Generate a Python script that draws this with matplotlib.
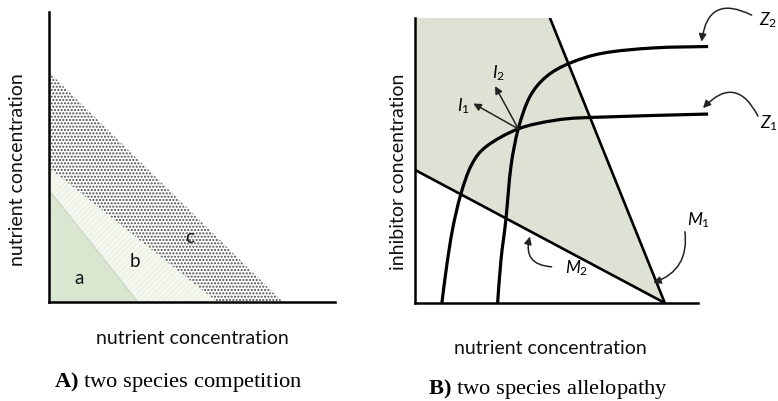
import numpy as np
import matplotlib
matplotlib.use('Agg')
import matplotlib.pyplot as plt
from matplotlib.path import Path
from matplotlib.patches import PathPatch, Polygon

plt.rcParams['font.family'] = ['Lato', 'DejaVu Sans']
plt.rcParams['mathtext.fontset'] = 'custom'
plt.rcParams['mathtext.it'] = 'Lato:italic'
plt.rcParams['mathtext.rm'] = 'Lato'
plt.rcParams['mathtext.bf'] = 'Liberation Serif:bold'
plt.rcParams['hatch.linewidth'] = 1.0

# panel A: upper edges of regions a, b, c (y-intercept, x-intercept)
edge_y0 = [3.86, 4.62, 7.93]
edge_x0 = [3.11, 5.87, 8.18]
region_names = ['a', 'b', 'c']
region_lx = [1.05, 3.01, 4.93]
region_ly = [0.8, 1.38, 2.24]

# panel B: resource-use lines M1, M2
m1_x = [4.77, 8.83]
m1_y = [10.0, 0.0]
m2_x = [0.0, 8.83]
m2_y = [4.67, 0.0]

# zero net growth isoclines Z1, Z2
z1_x = [0.95, 1.12, 1.33, 1.62, 2.0, 2.53, 3.65, 4.89, 6.18, 10.36]
z1_y = [0.0, 1.3, 2.6, 3.82, 4.85, 5.5, 6.11, 6.40, 6.51, 6.63]
z2_x = [2.92, 3.04, 3.21, 3.39, 3.65, 4.06, 4.65, 5.48, 6.66, 8.43, 10.36]
z2_y = [0.0, 1.52, 2.91, 4.78, 6.11, 7.24, 7.95, 8.42, 8.77, 8.95, 9.0]

# impact vectors from the equilibrium point
eq_pt = (3.65, 6.11)
impact_names = [r'$I_{\mathit{1}}$', r'$I_{\mathit{2}}$']
impact_tip_x = [2.06, 2.83]
impact_tip_y = [7.0, 7.61]
impact_lab_x = [1.72, 2.94]
impact_lab_y = [6.89, 8.05]


def smooth_path(xs, ys):
    pts = np.column_stack([xs, ys])
    ext = np.vstack([pts[0], pts, pts[-1]])
    verts = [pts[0]]
    codes = [Path.MOVETO]
    for i in range(len(pts) - 1):
        p0, p1, p2, p3 = ext[i], ext[i + 1], ext[i + 2], ext[i + 3]
        verts += [p1 + (p2 - p0) / 6, p2 - (p3 - p1) / 6, p2]
        codes += [Path.CURVE4] * 3
    return Path(verts, codes)


def clean_axes(ax):
    for s in ['top', 'right']:
        ax.spines[s].set_visible(False)
    for s in ['left', 'bottom']:
        ax.spines[s].set_linewidth(1.8)
    ax.set_xticks([])
    ax.set_yticks([])
    ax.patch.set_alpha(0)


fig = plt.figure(figsize=(7.78, 4.01), dpi=100)

# ---- A) two species competition
axA = fig.add_axes([49 / 778, 99 / 401, 286 / 778, 290 / 401])
clean_axes(axA)
axA.set_xlim(0, 10)
axA.set_ylim(0, 10)

c_poly = [(0, edge_y0[2]), (edge_x0[2], 0), (edge_x0[1], 0), (0, edge_y0[1])]
b_poly = [(0, edge_y0[1]), (edge_x0[1], 0), (edge_x0[0], 0), (0, edge_y0[0])]
a_poly = [(0, edge_y0[0]), (edge_x0[0], 0), (0, 0)]
axA.add_patch(Polygon(c_poly, facecolor='white', edgecolor='#4a4a4a',
                      hatch='.....', lw=0))
axA.add_patch(Polygon(b_poly, facecolor='#edf3e6', edgecolor='#f9fbf6',
                      hatch='//////', lw=0))
axA.add_patch(Polygon(a_poly, facecolor='#dae7d0', lw=0))
axA.plot([0, edge_x0[0]], [edge_y0[0], 0], color='#c9d3c2', lw=0.8)

for name, x, y in zip(region_names, region_lx, region_ly):
    axA.text(x, y, name, fontsize=13.5, ha='center', va='center', color='#111111')

# ---- B) two species allelopathy
axB = fig.add_axes([415 / 778, 98 / 401, 363 / 778, 285 / 401])
clean_axes(axB)
axB.set_xlim(0, 12.83)
axB.set_ylim(0, 10)
axB.spines['bottom'].set_bounds(0, 10.0)

shade = [(0, 10), (m1_x[0], m1_y[0]), (m1_x[1], m1_y[1]), (m2_x[0], m2_y[0])]
axB.add_patch(Polygon(shade, facecolor='#dee2d4', lw=0))
axB.plot(m1_x, m1_y, color='black', lw=1.9, solid_capstyle='round')
axB.plot(m2_x, m2_y, color='black', lw=1.9, solid_capstyle='round')

for xs, ys in [(z1_x, z1_y), (z2_x, z2_y)]:
    axB.add_patch(PathPatch(smooth_path(xs, ys), facecolor='none',
                            edgecolor='black', lw=2.3, clip_on=False))

for name, tx, ty, lx, ly in zip(impact_names, impact_tip_x, impact_tip_y,
                                impact_lab_x, impact_lab_y):
    axB.annotate('', xy=(tx, ty), xytext=eq_pt,
                 arrowprops=dict(arrowstyle='-|>', color='#222222', lw=1.1,
                                 mutation_scale=11, shrinkA=0, shrinkB=0))
    axB.text(lx, ly, name, fontsize=12.5, ha='center', va='center')

# curved pointer labels
pointers = [
    (r'$Z_{\mathit{2}}$', (12.15, 9.93), (11.9, 10.1), (10.13, 9.17), 0.7),
    (r'$Z_{\mathit{1}}$', (12.2, 6.3), (12.12, 6.56), (10.18, 6.84), 0.7),
    (r'$M_{\mathit{1}}$', (9.6, 2.91), (9.54, 2.50), (8.42, 0.71), -0.4),
    (r'$M_{\mathit{2}}$', (5.3, 1.22), (4.83, 1.27), (4.06, 2.33), -0.6),
]
for name, lab, start, tip, rad in pointers:
    axB.annotate('', xy=tip, xytext=start, annotation_clip=False,
                 arrowprops=dict(arrowstyle='-|>', color='#222222', lw=1.1,
                                 mutation_scale=11, shrinkA=0, shrinkB=0,
                                 connectionstyle='arc3,rad=%.2f' % rad))
    axB.text(lab[0], lab[1], name, fontsize=12.5, ha='left', va='center',
             clip_on=False)

# axis titles and captions
fig.text(0.023, 0.576, 'nutrient concentration', rotation=90, fontsize=14,
         ha='center', va='center', color='#111111')
fig.text(0.247, 0.157, 'nutrient concentration', fontsize=14,
         ha='center', va='center', color='#111111')
fig.text(0.512, 0.571, 'inhibitor concentration', rotation=90, fontsize=14,
         ha='center', va='center', color='#111111')
fig.text(0.707, 0.132, 'nutrient concentration', fontsize=14,
         ha='center', va='center', color='#111111')
fig.text(0.229, 0.047, r'$\mathbf{A)}$ two species competition',
         family='Liberation Serif', fontsize=16.2, ha='center', va='center')
fig.text(0.704, 0.03, r'$\mathbf{B)}$ two species allelopathy',
         family='Liberation Serif', fontsize=16.2, ha='center', va='center')

fig.savefig('out.png', dpi=100)
